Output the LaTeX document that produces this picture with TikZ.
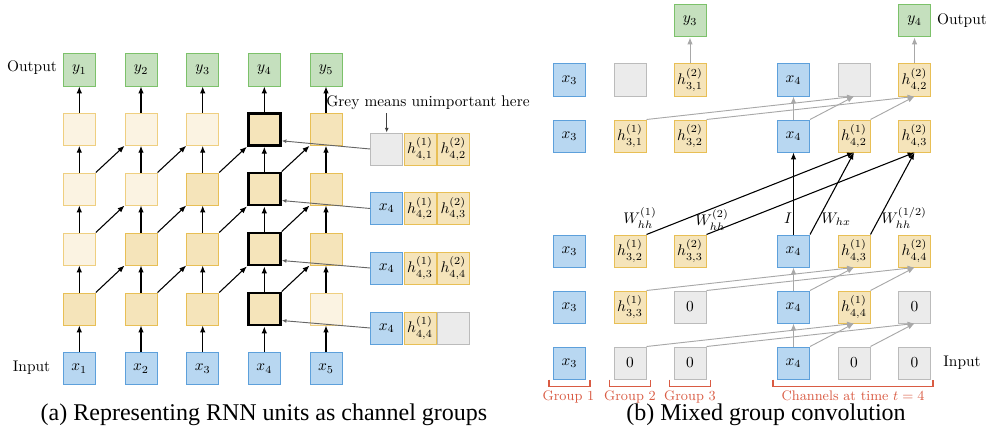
\documentclass[tikz,border=0pt]{standalone}
\usepackage{fontspec}
\usetikzlibrary{arrows.meta,calc}
\newfontfamily\capfont{Liberation Serif}
\definecolor{bluefill}{HTML}{B8D7F1}
\definecolor{blueline}{HTML}{5DA0DB}
\definecolor{greenfill}{HTML}{C5E0BE}
\definecolor{greenline}{HTML}{7CC16A}
\definecolor{yelfill}{HTML}{F5E4BA}
\definecolor{yelline}{HTML}{E8BF55}
\definecolor{ltfill}{HTML}{FBF3E2}
\definecolor{ltline}{HTML}{EFCF80}
\definecolor{greyfill}{HTML}{EBEBEB}
\definecolor{greyline}{HTML}{BBBBBB}
\definecolor{redcol}{HTML}{D95B43}
\definecolor{arrgrey}{HTML}{A8A8A8}
\tikzset{
  cell/.style={minimum size=20.8pt,inner sep=0pt,line width=0.65pt,font=\fontsize{10}{12}\selectfont},
  inbox/.style={cell,fill=bluefill,draw=blueline},
  outbox/.style={cell,fill=greenfill,draw=greenline},
  hmed/.style={cell,fill=yelfill,draw=yelline},
  hlight/.style={cell,fill=ltfill,draw=ltline},
  greybox/.style={cell,fill=greyfill,draw=greyline},
  boldbox/.style={cell,fill=yelfill,draw=black,line width=1.9pt},
  arr/.style={-{Latex[length=4.5pt,width=3.6pt]},line width=0.7pt,black},
  garr/.style={-{Latex[length=4.5pt,width=3.6pt]},line width=0.6pt,arrgrey},
  gline/.style={-{Latex[length=3pt,width=2.6pt]},line width=0.6pt,black!60},
  brk/.style={draw=redcol,line width=0.7pt},
  grp/.style={text=redcol,font=\fontsize{9}{10}\selectfont,inner sep=0pt},
  plain/.style={font=\fontsize{10}{12}\selectfont,inner sep=0pt},
  caption/.style={font=\capfont\fontsize{15.6}{18}\selectfont,inner sep=0pt}
}
\begin{document}
\begin{tikzpicture}[x=0.65pt,y=-0.65pt]
\useasboundingbox (0,0) rectangle (988,435);
% ---------------- left panel ----------------
\foreach \c/\x in {1/79.3,2/141,3/202.7,4/264.3,5/326}{
  \node[inbox] (Lin\c) at (\x,368.7) {$x_{\c}$};
  \node[outbox] (Lout\c) at (\x,70) {$y_{\c}$};
}
% hidden rows: r1 y=309, r2 y=249, r3 y=189, r4 y=129.3
\node[hmed]   (Lh1-1) at (79.3,309) {};
\node[hmed]   (Lh1-2) at (141,309) {};
\node[hmed]   (Lh1-3) at (202.7,309) {};
\node[boldbox](Lh1-4) at (264.3,309) {};
\node[hlight] (Lh1-5) at (326,309) {};
\node[hlight] (Lh2-1) at (79.3,249) {};
\node[hmed]   (Lh2-2) at (141,249) {};
\node[hmed]   (Lh2-3) at (202.7,249) {};
\node[boldbox](Lh2-4) at (264.3,249) {};
\node[hmed]   (Lh2-5) at (326,249) {};
\node[hlight] (Lh3-1) at (79.3,189) {};
\node[hlight] (Lh3-2) at (141,189) {};
\node[hmed]   (Lh3-3) at (202.7,189) {};
\node[boldbox](Lh3-4) at (264.3,189) {};
\node[hmed]   (Lh3-5) at (326,189) {};
\node[hlight] (Lh4-1) at (79.3,129.3) {};
\node[hlight] (Lh4-2) at (141,129.3) {};
\node[hlight] (Lh4-3) at (202.7,129.3) {};
\node[boldbox](Lh4-4) at (264.3,129.3) {};
\node[hmed]   (Lh4-5) at (326,129.3) {};
\node[plain] (Lout) at (32,68) {Output};
\node[plain] (Linp) at (31.5,368) {Input};
\foreach \c in {1,...,5}{
  \draw[arr] (Lin\c) -- (Lh1-\c);
  \draw[arr] (Lh1-\c) -- (Lh2-\c);
  \draw[arr] (Lh2-\c) -- (Lh3-\c);
  \draw[arr] (Lh3-\c) -- (Lh4-\c);
  \draw[arr] (Lh4-\c) -- (Lout\c);
}
\foreach \r/\rr in {1/2,2/3,3/4}{
  \foreach \c/\cc in {1/2,2/3,3/4,4/5}{
    \draw[arr] (Lh\r-\c.north east) -- (Lh\rr-\cc.south west);
  }
}
% stacks
\node[greybox] (S1a) at (386.7,149) {};
\node[hmed] (S1b) at (420,149) {$h^{(1)}_{4,1}$};
\node[hmed] (S1c) at (453.3,149) {$h^{(2)}_{4,2}$};
\node[inbox] (S2a) at (386.7,208.5) {$x_4$};
\node[hmed] (S2b) at (420,208.5) {$h^{(1)}_{4,2}$};
\node[hmed] (S2c) at (453.3,208.5) {$h^{(2)}_{4,3}$};
\node[inbox] (S3a) at (386.7,268) {$x_4$};
\node[hmed] (S3b) at (420,268) {$h^{(1)}_{4,3}$};
\node[hmed] (S3c) at (453.3,268) {$h^{(2)}_{4,4}$};
\node[inbox] (S4a) at (386.7,328) {$x_4$};
\node[hmed] (S4b) at (420,328) {$h^{(1)}_{4,4}$};
\node[greybox] (S4c) at (453.3,328) {};
\draw[gline] (S1a.west) -- ($(Lh4-4.south east)!0.17!(Lh4-4.north east)$);
\draw[gline] (S2a.west) -- ($(Lh3-4.south east)!0.17!(Lh3-4.north east)$);
\draw[gline] (S3a.west) -- ($(Lh2-4.south east)!0.17!(Lh2-4.north east)$);
\draw[gline] (S4a.west) -- ($(Lh1-4.south east)!0.17!(Lh1-4.north east)$);
\node[plain] (note) at (428,102.7) {Grey means unimportant here};
\draw[gline,black!75] (note.south -| S1a) ++(0,3) -- (S1a.north);
% ---------------- right panel ----------------
\foreach \r/\y in {A/80,B/136,C/251,D/307,E/363}{
  \node[inbox] (R\r-1) at (569.5,\y) {$x_3$};
  \node[inbox] (R\r-4) at (793.5,\y) {$x_4$};
}
\node[greybox] (RA-2) at (630,80) {};
\node[hmed] (RA-3) at (690,80) {$h^{(2)}_{3,1}$};
\node[greybox] (RA-5) at (854,80) {};
\node[hmed] (RA-6) at (914.5,80) {$h^{(2)}_{4,2}$};
\node[hmed] (RB-2) at (630,136) {$h^{(1)}_{3,1}$};
\node[hmed] (RB-3) at (690,136) {$h^{(2)}_{3,2}$};
\node[hmed] (RB-5) at (854,136) {$h^{(1)}_{4,2}$};
\node[hmed] (RB-6) at (914.5,136) {$h^{(2)}_{4,3}$};
\node[hmed] (RC-2) at (630,251) {$h^{(1)}_{3,2}$};
\node[hmed] (RC-3) at (690,251) {$h^{(2)}_{3,3}$};
\node[hmed] (RC-5) at (854,251) {$h^{(1)}_{4,3}$};
\node[hmed] (RC-6) at (914.5,251) {$h^{(2)}_{4,4}$};
\node[hmed] (RD-2) at (630,307) {$h^{(1)}_{3,3}$};
\node[greybox] (RD-3) at (690,307) {$0$};
\node[hmed] (RD-5) at (854,307) {$h^{(1)}_{4,4}$};
\node[greybox] (RD-6) at (914.5,307) {$0$};
\node[greybox] (RE-2) at (630,363) {$0$};
\node[greybox] (RE-3) at (690,363) {$0$};
\node[greybox] (RE-5) at (854,363) {$0$};
\node[greybox] (RE-6) at (914.5,363) {$0$};
\node[outbox] (Ry3) at (690,21) {$y_3$};
\node[outbox] (Ry4) at (914.5,21) {$y_4$};
\node[plain] (Rout) at (962,21) {Output};
\node[plain] (Rinp) at (962,363) {Input};
\draw[garr] (RA-3) -- (Ry3);
\draw[garr] (RA-6) -- (Ry4);
\foreach \lo/\up in {B/A,D/C,E/D}{
  \draw[garr] (R\lo-4.north) -- (R\up-4.south);
  \draw[garr] (R\lo-4.north east) -- (R\up-5.south);
  \draw[garr] (R\lo-5.north east) -- (R\up-6.south);
  \draw[garr] (R\lo-2.north east) -- (R\up-5.south);
  \draw[garr] (R\lo-3.north east) -- (R\up-6.south);
}
\draw[arr] (RC-4.north) -- (RB-4.south);
\draw[arr] (RC-4.north east) -- (RB-5.south);
\draw[arr] (RC-5.north east) -- (RB-6.south);
\draw[arr] (RC-2.north east) -- (RB-5.south);
\draw[arr] (RC-3.north east) -- (RB-6.south);
\node[plain] (wI) at (788,218) {$I$};
\node[plain] (whx) at (836,219) {$W_{hx}$};
\node[plain] (wh12) at (904,218) {$W^{(1/2)}_{hh}$};
\node[plain] (wh1) at (640,218) {$W^{(1)}_{hh}$};
\node[plain] (wh2) at (712,220) {$W^{(2)}_{hh}$};
% brackets
\draw[brk] ($(RE-1.south west)+(-4,0)$) -- ++(0,7) -| ($(RE-1.south east)+(4,0)$);
\draw[brk] ($(RE-2.south west)+(-4,0)$) -- ++(0,7) -| ($(RE-2.south east)+(4,0)$);
\draw[brk] ($(RE-3.south west)+(-4,0)$) -- ++(0,7) -| ($(RE-3.south east)+(4,0)$);
\draw[brk] ($(RE-4.south west)+(-4,0)$) -- ++(0,7) -| ($(RE-6.south east)+(2,0)$);
\node[grp] (g1) at ($(RE-1.south)+(-1,17)$) {Group 1};
\node[grp] (g2) at ($(RE-2.south)+(0,17)$) {Group 2};
\node[grp] (g3) at ($(RE-3.south)+(0,17)$) {Group 3};
\node[grp] (gt) at ($(RE-5.south)+(-1,16)$) {Channels at time $t=4$};
% captions
\node[caption] (capa) at (264,415) {(a) Representing RNN units as channel groups};
\node[caption] (capb) at (766,415) {(b) Mixed group convolution};
\end{tikzpicture}
\end{document}
